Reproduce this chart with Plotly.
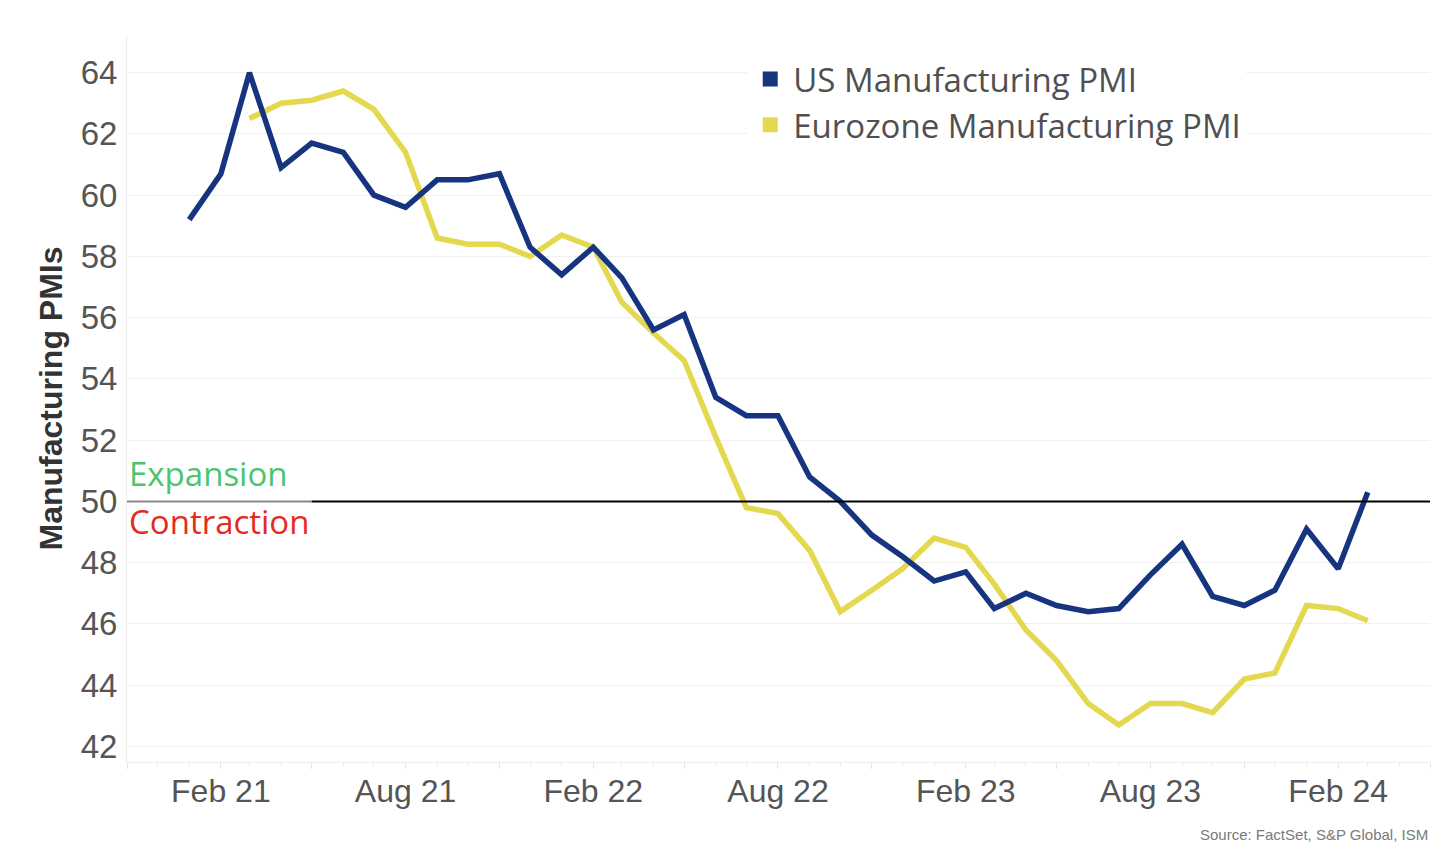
import plotly.graph_objects as go

# ---- data ----
months = [
    "2021-01-01", "2021-02-01", "2021-03-01", "2021-04-01", "2021-05-01", "2021-06-01",
    "2021-07-01", "2021-08-01", "2021-09-01", "2021-10-01", "2021-11-01", "2021-12-01",
    "2022-01-01", "2022-02-01", "2022-03-01", "2022-04-01", "2022-05-01", "2022-06-01",
    "2022-07-01", "2022-08-01", "2022-09-01", "2022-10-01", "2022-11-01", "2022-12-01",
    "2023-01-01", "2023-02-01", "2023-03-01", "2023-04-01", "2023-05-01", "2023-06-01",
    "2023-07-01", "2023-08-01", "2023-09-01", "2023-10-01", "2023-11-01", "2023-12-01",
    "2024-01-01", "2024-02-01", "2024-03-01",
]
us_pmi = [
    59.2, 60.7, 64.0, 60.9, 61.7, 61.4, 60.0, 59.6, 60.5, 60.5, 60.7, 58.3,
    57.4, 58.3, 57.3, 55.6, 56.1, 53.4, 52.8, 52.8, 50.8, 50.0, 48.9, 48.2,
    47.4, 47.7, 46.5, 47.0, 46.6, 46.4, 46.5, 47.6, 48.6, 46.9, 46.6, 47.1,
    49.1, 47.8, 50.3,
]
ez_pmi = [
    None, None, 62.5, 63.0, 63.1, 63.4, 62.8, 61.4, 58.6, 58.4, 58.4, 58.0,
    58.7, 58.3, 56.5, 55.5, 54.6, 52.1, 49.8, 49.6, 48.4, 46.4, 47.1, 47.8,
    48.8, 48.5, 47.3, 45.8, 44.8, 43.4, 42.7, 43.4, 43.4, 43.1, 44.2, 44.4,
    46.6, 46.5, 46.1,
]
tick_dates = [
    "2020-11-01", "2021-02-01", "2021-05-01", "2021-08-01", "2021-11-01",
    "2022-02-01", "2022-05-01", "2022-08-01", "2022-11-01", "2023-02-01",
    "2023-05-01", "2023-08-01", "2023-11-01", "2024-02-01", "2024-05-01",
]
tick_labels = [
    "", "Feb 21", "", "Aug 21", "", "Feb 22", "", "Aug 22", "",
    "Feb 23", "", "Aug 23", "", "Feb 24", "",
]
y_ticks = [42, 44, 46, 48, 50, 52, 54, 56, 58, 60, 62, 64]
threshold = 50

US_COLOR = "#16347f"
EZ_COLOR = "#e3d84e"
X_START, X_END = "2020-11-01", "2024-05-01"
SPLIT = "2021-05-01"

fig = go.Figure()

fig.add_trace(go.Scatter(
    x=months, y=ez_pmi, mode="lines", name="Eurozone Manufacturing PMI",
    line=dict(color=EZ_COLOR, width=5.5), showlegend=False, connectgaps=False,
))
fig.add_trace(go.Scatter(
    x=months, y=us_pmi, mode="lines", name="US Manufacturing PMI",
    line=dict(color=US_COLOR, width=5.5), showlegend=False,
))
# legend entries with square swatches
fig.add_trace(go.Scatter(
    x=[None], y=[None], mode="markers", name="US Manufacturing PMI",
    marker=dict(symbol="square", size=15, color=US_COLOR),
))
fig.add_trace(go.Scatter(
    x=[None], y=[None], mode="markers", name="Eurozone Manufacturing PMI",
    marker=dict(symbol="square", size=15, color=EZ_COLOR),
))

# 50 threshold line
fig.add_shape(type="line", xref="x", yref="y", x0=X_START, x1=SPLIT,
              y0=threshold, y1=threshold, line=dict(color="#8a8a8a", width=2))
fig.add_shape(type="line", xref="x", yref="y", x0=SPLIT, x1=X_END,
              y0=threshold, y1=threshold, line=dict(color="#000000", width=2))

fig.add_annotation(text="Expansion", xref="paper", yref="y", x=0.0, y=50.9,
                   xanchor="left", yanchor="middle", showarrow=False,
                   font=dict(family="Open Sans", size=33, color="#4cc46e"))
fig.add_annotation(text="Contraction", xref="paper", yref="y", x=0.0, y=49.35,
                   xanchor="left", yanchor="middle", showarrow=False,
                   font=dict(family="Open Sans", size=33, color="#e8291c"))

fig.add_annotation(text="Source: FactSet, S&P Global, ISM", xref="paper", yref="paper",
                   x=1.0, y=-0.10, xanchor="right", yanchor="middle", showarrow=False,
                   font=dict(family="Liberation Sans Narrow, Liberation Sans", size=15,
                             color="#7a7a7a"))

fig.update_layout(
    width=1444, height=856,
    margin=dict(l=119, r=22, t=27, b=102),
    paper_bgcolor="white", plot_bgcolor="white",
    legend=dict(
        x=0.476, y=0.978, xanchor="left", yanchor="top",
        bgcolor="white", borderwidth=0, itemwidth=36,
        font=dict(family="Open Sans", size=33, color="#505050"),
    ),
    showlegend=True,
)

fig.update_xaxes(
    type="date", range=[X_START, X_END],
    tickmode="array", tickvals=tick_dates, ticktext=tick_labels,
    ticks="outside", ticklen=6, tickcolor="#e4e4e4", tickwidth=1,
    minor=dict(ticks="outside", ticklen=4, tickcolor="#ececec", dtick="M1",
               tick0="2020-11-01", showgrid=False),
    showgrid=False, zeroline=False,
    showline=True, linecolor="#eeeeee", linewidth=1,
    tickfont=dict(family="Liberation Sans Narrow, Liberation Sans", size=32, color="#555555"),
    ticklabelstandoff=-5,
)
fig.update_yaxes(
    range=[41.49, 65.23],
    tickmode="array", tickvals=y_ticks,
    showgrid=True, gridcolor="#f0f0f0", gridwidth=1,
    zeroline=False, ticks="",
    showline=True, linecolor="#eeeeee", linewidth=1,
    tickfont=dict(family="Liberation Sans", size=33, color="#555555"),
    ticklabelstandoff=2,
    title=dict(text="<b>Manufacturing PMIs</b>", standoff=8,
               font=dict(family="Liberation Sans", size=32, color="#333333")),
)

fig.write_html("out.html")
